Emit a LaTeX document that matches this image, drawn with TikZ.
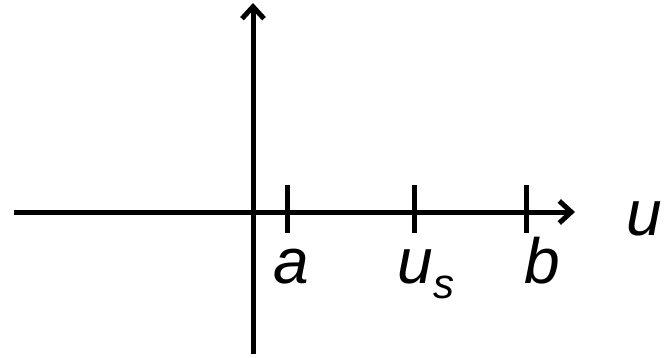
\documentclass[tikz,border=0pt]{standalone}
\usepackage{fontspec}
\setmainfont{Liberation Sans}
\usetikzlibrary{arrows.meta}

\begin{document}
\begin{tikzpicture}[
	x=1pt, y=-1pt,
	axis/.style={line width=5pt, -{Straight Barb[length=12pt, width=22pt, line width=5pt]}},
	tick/.style={line width=5pt},
	lbl/.style={font=\fontsize{64}{70}\selectfont\itshape, anchor=base, inner sep=0pt},
	]
	\useasboundingbox (0,0) rectangle (667,357);
	\coordinate (west)  at (14,212);
	\coordinate (east)  at (575,212);
	\coordinate (south) at (253,354);
	\coordinate (north) at (253,3);
	\draw[axis] (west)  -- (east);
	\draw[axis] (south) -- (north);
	% ticks
	\foreach \x in {287, 414, 526}
		\draw[tick] (\x,185) -- (\x,233);
	\node[lbl] (la)  at (291,283) {a};
	\node[lbl] (lus) at (426,283) {u\raisebox{-15pt}{\fontsize{42}{46}\selectfont s}};
	\node[lbl] (lb)  at (542,283) {b};
	\node[lbl] (lu)  at (644,235) {u};
\end{tikzpicture}
\end{document}
